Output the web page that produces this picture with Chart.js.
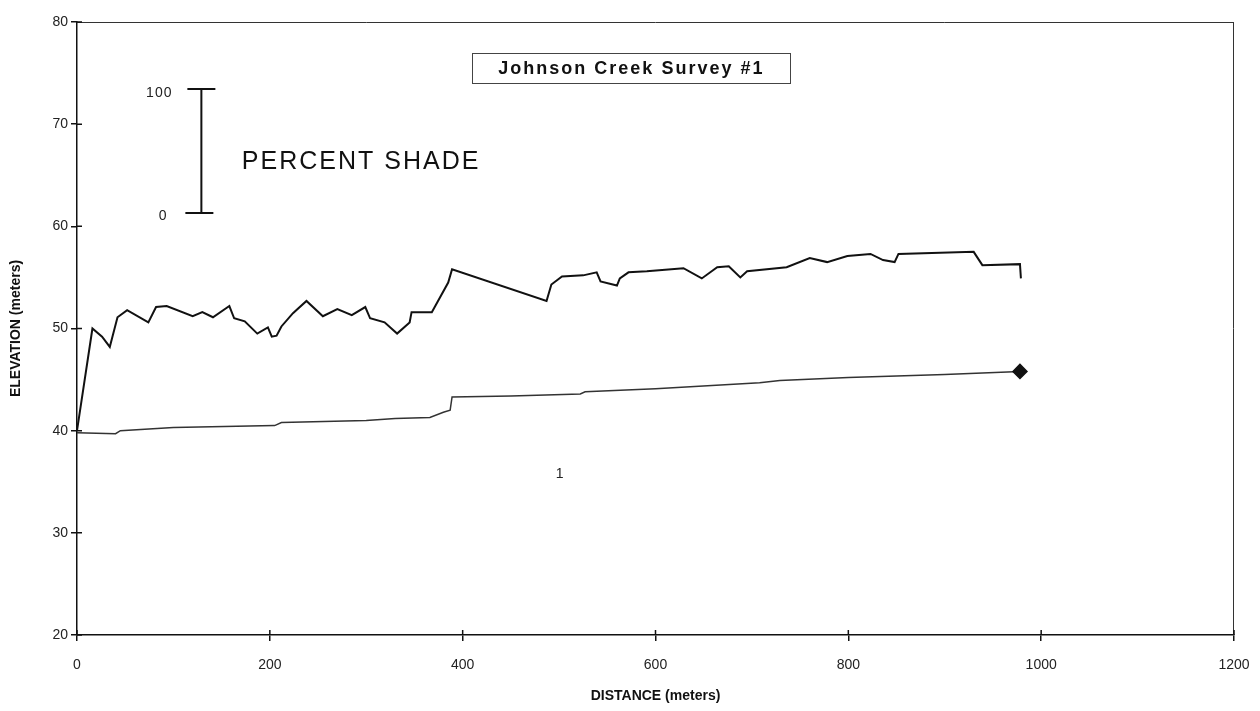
<!DOCTYPE html>
<html>
<head>
<meta charset="utf-8">
<title>Johnson Creek Survey #1</title>
<script src="https://cdn.jsdelivr.net/npm/chart.js@4.4.1/dist/chart.umd.min.js"></script>
<style>
  html, body { margin: 0; padding: 0; background: #fff; }
  canvas { display: block; }
</style>
</head>
<body>
<canvas id="profile" width="1260" height="711"></canvas>
<script>
// upper trace
const upperDistance = [0, 16, 26, 34, 42, 52, 74, 82, 93, 120, 130, 141, 158, 163, 174, 187, 198, 202, 207, 212, 224, 238, 255, 270, 285, 299, 304, 319, 332, 345, 347, 368, 385, 389, 487, 492, 503, 525, 539, 543, 560, 563, 572, 591, 629, 648, 664, 676, 688, 695, 736, 760, 778, 799, 823, 836, 848, 852, 930, 939, 978, 979];
const upperElevation = [40.0, 50.0, 49.2, 48.2, 51.1, 51.8, 50.6, 52.1, 52.2, 51.2, 51.6, 51.1, 52.2, 51.0, 50.7, 49.5, 50.1, 49.2, 49.3, 50.2, 51.5, 52.7, 51.2, 51.9, 51.3, 52.1, 51.0, 50.6, 49.5, 50.6, 51.6, 51.6, 54.5, 55.8, 52.7, 54.3, 55.1, 55.2, 55.5, 54.6, 54.2, 54.9, 55.5, 55.6, 55.9, 54.9, 56.0, 56.1, 55.0, 55.6, 56.0, 56.9, 56.5, 57.1, 57.3, 56.7, 56.5, 57.3, 57.5, 56.2, 56.3, 54.9];

// lower trace
const lowerDistance = [0, 40, 45, 100, 205, 212, 300, 330, 366, 380, 387, 389, 450, 522, 527, 600, 708, 729, 800, 900, 978];
const lowerElevation = [39.8, 39.7, 40.0, 40.3, 40.5, 40.8, 41.0, 41.2, 41.3, 41.8, 42.0, 43.3, 43.4, 43.6, 43.8, 44.1, 44.7, 44.9, 45.2, 45.5, 45.8];

const xTicks = [0, 200, 400, 600, 800, 1000, 1200];
const yTicks = [20, 30, 40, 50, 60, 70, 80];

const toPoints = (xs, ys) => xs.map((x, i) => ({ x: x, y: ys[i] }));

const FONT = "'Liberation Sans', Arial, sans-serif";

// box on top + right side, and the little inward tick stubs
const framePlugin = {
  id: "frame",
  afterDraw(chart) {
    const { ctx, chartArea: a, scales } = chart;
    ctx.save();
    ctx.strokeStyle = "#333";
    ctx.lineWidth = 1;
    ctx.beginPath();
    ctx.moveTo(a.left, a.top + 0.5);
    ctx.lineTo(a.right, a.top + 0.5);
    ctx.moveTo(a.right - 0.5, a.top);
    ctx.lineTo(a.right - 0.5, a.bottom);
    ctx.stroke();

    ctx.strokeStyle = "#111";
    ctx.lineWidth = 1.5;
    ctx.beginPath();
    xTicks.forEach((v) => {
      const px = scales.x.getPixelForValue(v);
      ctx.moveTo(px, a.bottom);
      ctx.lineTo(px, a.bottom - 5);
    });
    yTicks.forEach((v) => {
      const py = scales.y.getPixelForValue(v);
      ctx.moveTo(a.left, py);
      ctx.lineTo(a.left + 5, py);
    });
    ctx.stroke();
    ctx.restore();
  },
};

// title box, shade scale bar and loose labels
const notesPlugin = {
  id: "notes",
  afterDraw(chart) {
    const { ctx } = chart;
    const X = (v) => chart.scales.x.getPixelForValue(v);
    const Y = (v) => chart.scales.y.getPixelForValue(v);
    ctx.save();
    ctx.fillStyle = "#111";
    ctx.textBaseline = "middle";

    // title box
    const cx = X(575), cy = Y(75.5);
    ctx.strokeStyle = "#444";
    ctx.lineWidth = 1;
    ctx.strokeRect(Math.round(cx - 159) + 0.5, Math.round(cy - 15) + 0.5, 318, 30);
    ctx.font = "bold 18px " + FONT;
    ctx.letterSpacing = "2px";
    ctx.textAlign = "center";
    ctx.fillText("Johnson Creek Survey #1", cx, cy + 1);

    // percent shade label
    ctx.font = "25px " + FONT;
    ctx.letterSpacing = "2px";
    ctx.textAlign = "left";
    ctx.fillText("PERCENT SHADE", X(171), Y(66.3));

    // scale bar
    const bx = X(129), top = Y(73.45), bot = Y(61.3);
    ctx.strokeStyle = "#111";
    ctx.lineWidth = 2;
    ctx.beginPath();
    ctx.moveTo(bx, top);
    ctx.lineTo(bx, bot);
    ctx.moveTo(bx - 14, top);
    ctx.lineTo(bx + 14, top);
    ctx.moveTo(bx - 16, bot);
    ctx.lineTo(bx + 12, bot);
    ctx.stroke();

    ctx.font = "14px " + FONT;
    ctx.letterSpacing = "1px";
    ctx.fillStyle = "#222";
    ctx.textAlign = "right";
    ctx.fillText("100", X(99), Y(73.0));
    ctx.fillText("0", X(94), Y(61.0));

    ctx.textAlign = "center";
    ctx.fillText("1", X(501), Y(35.7));
    ctx.restore();
  },
};

const ctx = document.getElementById("profile");

new Chart(ctx, {
  type: "line",
  data: {
    datasets: [
      {
        label: "upper",
        data: toPoints(upperDistance, upperElevation),
        borderColor: "#111",
        borderWidth: 2,
        pointRadius: 0,
        tension: 0,
        fill: false,
      },
      {
        label: "lower",
        data: toPoints(lowerDistance, lowerElevation),
        borderColor: "#333",
        borderWidth: 1.5,
        pointStyle: "rectRot",
        pointRadius: (c) => (c.dataIndex === lowerDistance.length - 1 ? 7 : 0),
        pointBackgroundColor: "#111",
        pointBorderColor: "#111",
        tension: 0,
        fill: false,
      },
    ],
  },
  options: {
    responsive: false,
    animation: false,
    devicePixelRatio: 1,
    layout: { padding: { left: 0, top: 22, right: 26, bottom: 0 } },
    plugins: {
      legend: { display: false },
      tooltip: { enabled: false },
    },
    scales: {
      x: {
        type: "linear",
        min: 0,
        max: 1200,
        afterBuildTicks: (s) => { s.ticks = xTicks.map((v) => ({ value: v })); },
        afterFit: (s) => {
          s.height = 76;
          // let the layout padding decide where the plot ends
          s.paddingLeft = 0;
          s.paddingRight = 0;
        },
        grid: { drawOnChartArea: false, tickLength: 6, color: "#111", lineWidth: 1.5 },
        border: { color: "#111", width: 1.5 },
        ticks: {
          color: "#222",
          padding: 16,
          font: { family: FONT, size: 14 },
          callback: (v) => String(v),
        },
        title: {
          display: true,
          text: "DISTANCE (meters)",
          color: "#111",
          padding: { top: 0, bottom: 6 },
          font: { family: FONT, size: 14, weight: "bold" },
        },
      },
      y: {
        type: "linear",
        min: 20,
        max: 80,
        afterBuildTicks: (s) => { s.ticks = yTicks.map((v) => ({ value: v })); },
        afterFit: (s) => { s.width = 77; },
        grid: { drawOnChartArea: false, tickLength: 6, color: "#111", lineWidth: 1.5 },
        border: { color: "#111", width: 1.5 },
        ticks: {
          color: "#222",
          padding: 3,
          font: { family: FONT, size: 14 },
          callback: (v) => String(v),
        },
        title: {
          display: true,
          text: "ELEVATION (meters)",
          color: "#111",
          padding: { top: 8, bottom: 0 },
          font: { family: FONT, size: 14, weight: "bold" },
        },
      },
    },
  },
  plugins: [framePlugin, notesPlugin],
});
</script>
</body>
</html>
